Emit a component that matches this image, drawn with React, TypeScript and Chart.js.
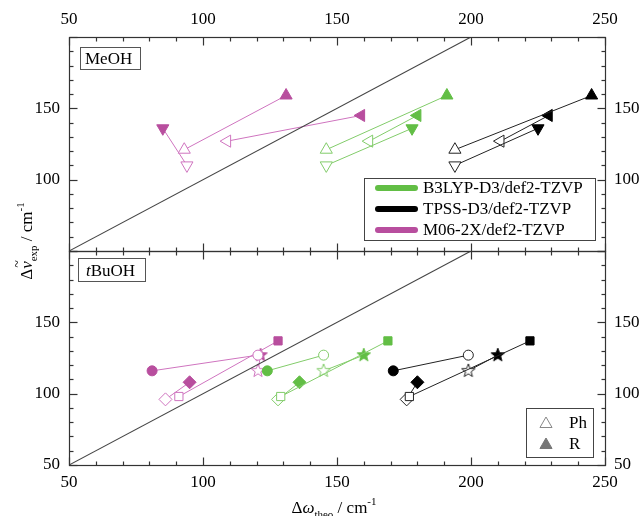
import React, { useEffect, useRef } from 'react';
import { Chart, registerables } from 'chart.js';
Chart.register(...registerables);

const GREEN = '#62be45';
const BLACK = '#000000';
const MAGENTA = '#b84e9e';
const GREEN_LIGHT = '#82cc6a';
const BLACK_LIGHT = '#222222';
const MAGENTA_LIGHT = '#cf74bf';
const FONT = '"Liberation Serif", "DejaVu Serif", serif';

const functionals = ['B3LYP-D3/def2-TZVP', 'TPSS-D3/def2-TZVP', 'M06-2X/def2-TZVP'];
const functionalColors = [GREEN, BLACK, MAGENTA];

// MeOH panel (triangle orientation per vibration)
const meohShapes = ['up', 'down', 'left'];
const meohExpPh = [121, 110, 127];
const meohExpR = [159, 136, 145];
const meohB3lypPh = [146, 146, 162];
const meohB3lypR = [191, 178, 180];
const meohTpssPh = [194, 194, 211];
const meohTpssR = [245, 225, 229];
const meohM06Ph = [93, 94, 109];
const meohM06R = [131, 85, 159];

// tBuOH panel
const tbuShapes = ['circle', 'square', 'diamond', 'star'];
const tbuExpPh = [127, 98, 96, 116];
const tbuExpR = [116, 137, 108, 127];
const tbuB3lypPh = [145, 129, 128, 145];
const tbuB3lypR = [124, 169, 136, 160];
const tbuTpssPh = [199, 177, 176, 199];
const tbuTpssR = [171, 222, 180, 210];
const tbuM06Ph = [120.5, 91, 86, 120.5];
const tbuM06R = [81, 128, 95, 121.5];

const xRange = [50, 250];
const yRange = [50, 200];
const diagonal = [50, 200];

function starCanvas(fill: string, stroke: string, r: number) {
  const size = Math.ceil(r * 2 + 4);
  const c = document.createElement('canvas');
  c.width = size;
  c.height = size;
  const ctx = c.getContext('2d')!;
  const cx = size / 2, cy = size / 2;
  ctx.beginPath();
  for (let i = 0; i < 10; i++) {
    const rad = i % 2 === 0 ? r : r * 0.42;
    const a = -Math.PI / 2 + (i * Math.PI) / 5;
    const px = cx + rad * Math.cos(a), py = cy + rad * Math.sin(a);
    if (i === 0) ctx.moveTo(px, py); else ctx.lineTo(px, py);
  }
  ctx.closePath();
  ctx.fillStyle = fill;
  ctx.fill();
  ctx.strokeStyle = stroke;
  ctx.lineWidth = 1;
  ctx.stroke();
  return c;
}

function styleFor(shape: string, color: string, filled: boolean) {
  switch (shape) {
    case 'up': return { style: 'triangle', rot: 0, r: 7 };
    case 'down': return { style: 'triangle', rot: 180, r: 7 };
    case 'left': return { style: 'triangle', rot: 270, r: 7 };
    case 'circle': return { style: 'circle', rot: 0, r: 5 };
    case 'square': return { style: 'rect', rot: 0, r: 5.8 };
    case 'diamond': return { style: 'rectRot', rot: 0, r: 6.5 };
    default: return { style: starCanvas(filled ? color : '#ffffff', color, 7), rot: 0, r: 7 };
  }
}

function pairDatasets(shapes: string[], expR: number[], expPh: number[], thR: number[], thPh: number[], color: string, light: string, yAxisID: string) {
  return shapes.map((shape, i) => {
    const sR = styleFor(shape, color, true);
    const sPh = styleFor(shape, light, false);
    return {
      type: 'scatter' as const,
      showLine: true,
      xAxisID: 'x',
      yAxisID,
      data: [{ x: thR[i], y: expR[i] }, { x: thPh[i], y: expPh[i] }],
      borderColor: light,
      borderWidth: 1,
      pointStyle: [sR.style, sPh.style],
      pointRotation: [sR.rot, sPh.rot],
      pointRadius: [sR.r, sPh.r],
      pointBackgroundColor: [color, '#ffffff'],
      pointBorderColor: [color, light],
      pointBorderWidth: 1,
    };
  });
}

function diagDataset(yAxisID: string) {
  return {
    type: 'scatter' as const,
    showLine: true,
    xAxisID: 'x',
    yAxisID,
    data: [{ x: diagonal[0], y: diagonal[0] }, { x: diagonal[1], y: diagonal[1] }],
    borderColor: '#444444',
    borderWidth: 1.1,
    pointRadius: 0,
  };
}

type Part = { t: string; size: number; italic?: boolean; dy?: number; tilde?: boolean };

function drawRich(ctx: CanvasRenderingContext2D, parts: Part[], cx: number, baseline: number) {
  const widths = parts.map((p) => {
    ctx.font = `${p.italic ? 'italic ' : ''}${p.size}px ${FONT}`;
    return ctx.measureText(p.t).width;
  });
  const total = widths.reduce((a, b) => a + b, 0);
  let x = cx - total / 2;
  ctx.textAlign = 'left';
  ctx.textBaseline = 'alphabetic';
  parts.forEach((p, i) => {
    ctx.font = `${p.italic ? 'italic ' : ''}${p.size}px ${FONT}`;
    ctx.fillText(p.t, x, baseline + (p.dy || 0));
    if (p.tilde) {
      ctx.font = `14px ${FONT}`;
      ctx.textAlign = 'center';
      ctx.fillText('~', x + widths[i] / 2 + 1, baseline - 10);
      ctx.textAlign = 'left';
    }
    x += widths[i];
  });
}

const decoPlugin = {
  id: 'deco',
  afterDraw(chart: any) {
    const ctx: CanvasRenderingContext2D = chart.ctx;
    const xs = chart.scales.x;
    const panels = [chart.scales.yT, chart.scales.yB];
    ctx.save();
    ctx.strokeStyle = '#333333';
    ctx.lineWidth = 1.2;
    const line = (x1: number, y1: number, x2: number, y2: number) => {
      ctx.beginPath();
      ctx.moveTo(x1, y1);
      ctx.lineTo(x2, y2);
      ctx.stroke();
    };
    for (const p of panels) {
      const top = Math.round(p.top) + 0.5;
      const bot = Math.round(p.bottom) + 0.5;
      const left = Math.round(xs.left) + 0.5;
      const right = Math.round(xs.right) + 0.5;
      ctx.strokeRect(left, top, right - left, bot - top);
      for (let v = xRange[0]; v <= xRange[1]; v += 10) {
        const px = Math.round(xs.getPixelForValue(v)) + 0.5;
        const len = v % 50 === 0 ? 8 : 4;
        line(px, top, px, top + len);
        line(px, bot, px, bot - len);
      }
      for (let v = yRange[0]; v <= yRange[1]; v += 10) {
        const py = Math.round(p.getPixelForValue(v)) + 0.5;
        const len = v % 50 === 0 ? 8 : 4;
        line(left, py, left + len, py);
        line(right, py, right - len, py);
      }
    }
    ctx.lineWidth = 1;
    // panel labels
    ctx.fillStyle = '#ffffff';
    ctx.strokeStyle = '#555555';
    ctx.fillRect(80.5, 47.5, 60, 22);
    ctx.strokeRect(80.5, 47.5, 60, 22);
    ctx.fillRect(78.5, 258.5, 67, 23);
    ctx.strokeRect(78.5, 258.5, 67, 23);
    ctx.fillStyle = '#000000';
    ctx.textAlign = 'left';
    ctx.textBaseline = 'alphabetic';
    ctx.font = `17px ${FONT}`;
    ctx.fillText('MeOH', 85, 64);
    ctx.font = `italic 17px ${FONT}`;
    ctx.fillText('t', 86, 276);
    const tw = ctx.measureText('t').width;
    ctx.font = `17px ${FONT}`;
    ctx.fillText('BuOH', 86 + tw, 276);

    // functional legend
    ctx.fillStyle = '#ffffff';
    ctx.strokeStyle = '#444444';
    ctx.fillRect(364.5, 178.5, 231, 62);
    ctx.strokeRect(364.5, 178.5, 231, 62);
    functionals.forEach((name, i) => {
      const cy = 188 + i * 21;
      ctx.strokeStyle = functionalColors[i];
      ctx.lineWidth = 6;
      ctx.lineCap = 'round';
      line(378, cy, 415, cy);
      ctx.fillStyle = '#000000';
      ctx.font = `17px ${FONT}`;
      ctx.textBaseline = 'middle';
      ctx.fillText(name, 423, cy + 1);
    });
    ctx.lineCap = 'butt';
    ctx.lineWidth = 1;

    // Ph / R legend
    ctx.fillStyle = '#ffffff';
    ctx.strokeStyle = '#444444';
    ctx.fillRect(526.5, 408.5, 67, 49);
    ctx.strokeRect(526.5, 408.5, 67, 49);
    const tri = (cx: number, cy: number, r: number) => {
      ctx.beginPath();
      for (let k = 0; k < 3; k++) {
        const a = -Math.PI / 2 + (k * 2 * Math.PI) / 3;
        const px = cx + r * Math.cos(a), py = cy + r * Math.sin(a);
        if (k === 0) ctx.moveTo(px, py); else ctx.lineTo(px, py);
      }
      ctx.closePath();
    };
    tri(546, 424, 7);
    ctx.fillStyle = '#ffffff';
    ctx.fill();
    ctx.strokeStyle = '#888888';
    ctx.stroke();
    tri(546, 445, 7);
    ctx.fillStyle = '#777777';
    ctx.fill();
    ctx.strokeStyle = '#777777';
    ctx.stroke();
    ctx.fillStyle = '#000000';
    ctx.font = `17px ${FONT}`;
    ctx.textBaseline = 'middle';
    ctx.fillText('Ph', 569, 424);
    ctx.fillText('R', 569, 445);

    // axis titles
    ctx.fillStyle = '#000000';
    drawRich(ctx, [
      { t: 'Δ', size: 17 },
      { t: 'ω', size: 17, italic: true },
      { t: 'theo', size: 11, dy: 5 },
      { t: ' / cm', size: 17 },
      { t: '-1', size: 11, dy: -8 },
    ], 334, 513);

    ctx.save();
    ctx.translate(26, 241);
    ctx.rotate(-Math.PI / 2);
    drawRich(ctx, [
      { t: 'Δ', size: 17 },
      { t: 'ν', size: 17, italic: true, tilde: true },
      { t: 'exp', size: 11, dy: 5 },
      { t: ' / cm', size: 17 },
      { t: '-1', size: 11, dy: -8 },
    ], 0, 6);
    ctx.restore();
    ctx.restore();
  },
};

const tickFont = { family: FONT, size: 17 };
const hiddenGrid = { display: false, drawTicks: false, tickLength: 0 };

function yAxis(position: 'left' | 'right', stack: string, hide: number[], width: number, pad: number) {
  return {
    type: 'linear' as const,
    position,
    stack,
    stackWeight: 1,
    min: yRange[0],
    max: yRange[1],
    grid: hiddenGrid,
    border: { display: false },
    ticks: {
      stepSize: 50,
      padding: pad,
      color: '#000000',
      font: tickFont,
      callback: (v: any) => (hide.includes(Number(v)) ? '' : String(v)),
    },
    afterFit: (s: any) => { s.width = width; },
  };
}

export default function App() {
  const ref = useRef<HTMLCanvasElement>(null);
  useEffect(() => {
    const datasets: any[] = [
      diagDataset('yT'),
      diagDataset('yB'),
      ...pairDatasets(meohShapes, meohExpR, meohExpPh, meohB3lypR, meohB3lypPh, GREEN, GREEN_LIGHT, 'yT'),
      ...pairDatasets(meohShapes, meohExpR, meohExpPh, meohTpssR, meohTpssPh, BLACK, BLACK_LIGHT, 'yT'),
      ...pairDatasets(meohShapes, meohExpR, meohExpPh, meohM06R, meohM06Ph, MAGENTA, MAGENTA_LIGHT, 'yT'),
      ...pairDatasets(tbuShapes, tbuExpR, tbuExpPh, tbuB3lypR, tbuB3lypPh, GREEN, GREEN_LIGHT, 'yB'),
      ...pairDatasets(tbuShapes, tbuExpR, tbuExpPh, tbuTpssR, tbuTpssPh, BLACK, BLACK_LIGHT, 'yB'),
      ...pairDatasets(tbuShapes, tbuExpR, tbuExpPh, tbuM06R, tbuM06Ph, MAGENTA, MAGENTA_LIGHT, 'yB'),
    ];
    const chart = new Chart(ref.current!, {
      type: 'scatter',
      data: { datasets },
      options: {
        animation: false,
        responsive: false,
        layout: { padding: 0 },
        plugins: { legend: { display: false }, tooltip: { enabled: false } },
        scales: {
          x: {
            type: 'linear',
            position: 'bottom',
            min: xRange[0],
            max: xRange[1],
            grid: hiddenGrid,
            border: { display: false },
            ticks: { stepSize: 50, padding: 7, color: '#000000', font: tickFont },
            afterFit: (s: any) => { s.height = 51; },
          },
          x2: {
            type: 'linear',
            position: 'top',
            min: xRange[0],
            max: xRange[1],
            grid: hiddenGrid,
            border: { display: false },
            ticks: { stepSize: 50, padding: 7, color: '#000000', font: tickFont },
            afterFit: (s: any) => { s.height = 37; },
          },
          yB: yAxis('left', 'L', [200], 69, 9),
          yT: yAxis('left', 'L', [50, 200], 69, 9),
          yTR: yAxis('right', 'R', [50, 200], 37, 9),
          yBR: yAxis('right', 'R', [200], 37, 9),
        } as any,
      },
      plugins: [decoPlugin],
    });
    return () => chart.destroy();
  }, []);
  return (
    <div style={{ position: 'fixed', left: 0, top: 0, width: 642, height: 516, background: '#ffffff' }}>
      <canvas ref={ref} width={642} height={516} style={{ display: 'block' }} />
    </div>
  );
}
